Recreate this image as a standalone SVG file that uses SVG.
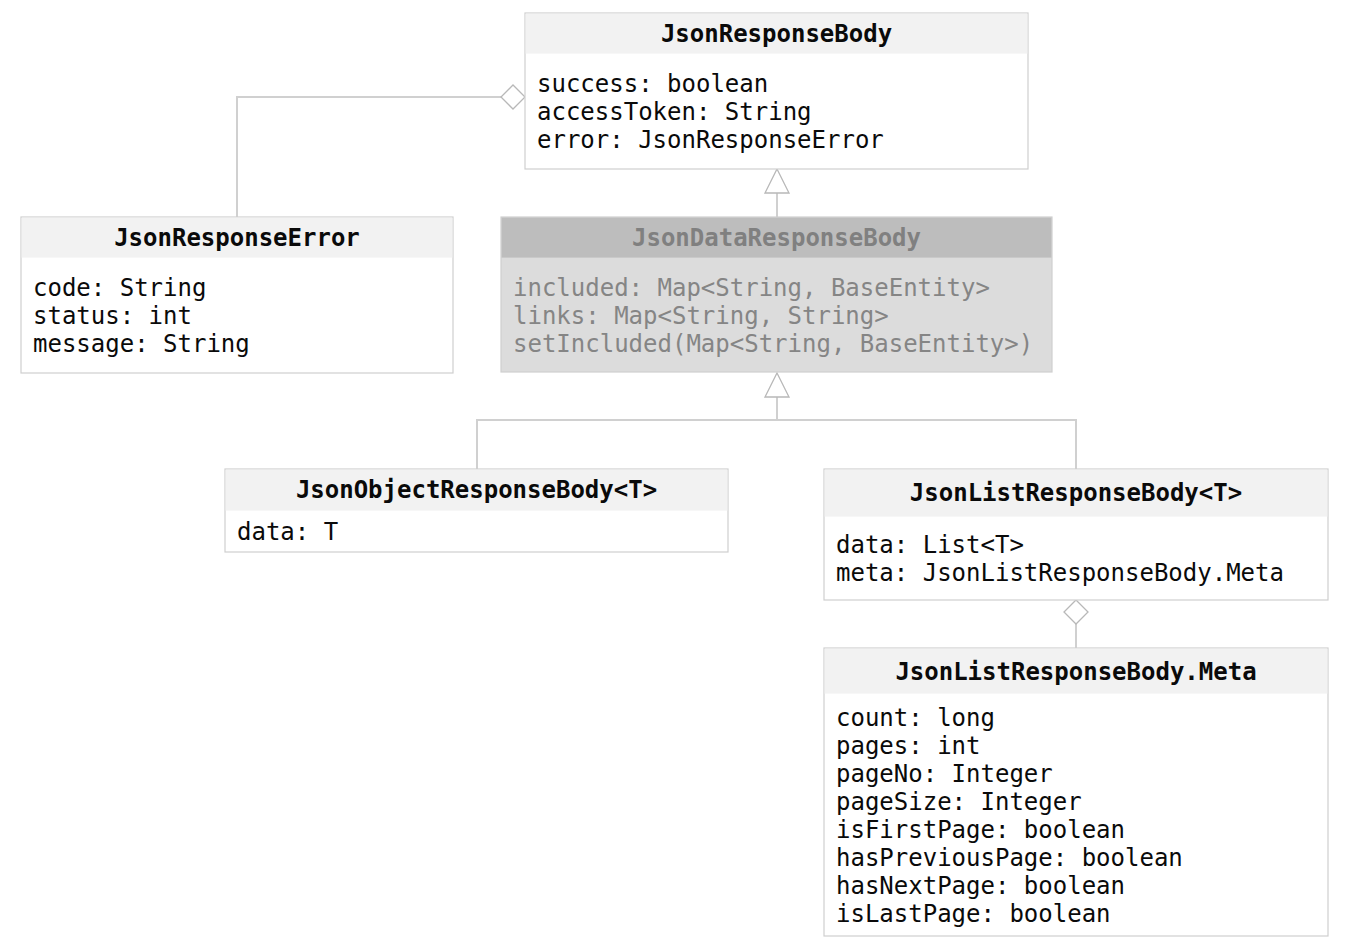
<svg xmlns="http://www.w3.org/2000/svg" width="1350" height="950" viewBox="0 0 1350 950">
<defs>
<style>
.box{fill:#ffffff;stroke:#cfcfcf;stroke-width:1.2}
.hdr{fill:#f2f2f2}
.title{font-family:"DejaVu Sans Mono","Liberation Mono",monospace;font-size:24px;font-weight:bold;fill:#0a0a0a;text-anchor:middle}
.attr{font-family:"DejaVu Sans Mono","Liberation Mono",monospace;font-size:24px;fill:#0a0a0a}
.gbox{fill:#dcdcdc;stroke:#cfcfcf;stroke-width:1.2}
.ghdr{fill:#bdbdbd}
.gtitle{font-family:"DejaVu Sans Mono","Liberation Mono",monospace;font-size:24px;font-weight:bold;fill:#808080;text-anchor:middle}
.gattr{font-family:"DejaVu Sans Mono","Liberation Mono",monospace;font-size:24px;fill:#858585}
.conn{fill:none;stroke:#d0d0d0;stroke-width:2}
.head{fill:#ffffff;stroke:#b8b8b8;stroke-width:1.3}
</style>
</defs>
<rect width="1350" height="950" fill="#ffffff"/>

<g id="connectors">
<polyline class="conn" points="501,97 237,97 237,217"/>
<polygon class="head" points="525,97 513,85 501,97 513,109"/>
<line class="conn" x1="777" y1="193" x2="777" y2="217"/>
<polygon class="head" points="777,169 789,193 765,193"/>
<line class="conn" x1="777" y1="397" x2="777" y2="420"/>
<polyline class="conn" points="477,469 477,420 1076,420 1076,469"/>
<polygon class="head" points="777,373 789,397 765,397"/>
<line class="conn" x1="1076" y1="624" x2="1076" y2="648"/>
<polygon class="head" points="1076,600 1088,612 1076,624 1064,612"/>
</g>

<g id="JsonResponseBody">
<rect class="box" x="525" y="13" width="503" height="156"/>
<rect class="hdr" x="525.6" y="13.6" width="501.8" height="40"/>
<text class="title" x="776.5" y="42">JsonResponseBody</text>
<text class="attr" x="537" y="92">success: boolean</text>
<text class="attr" x="537" y="120">accessToken: String</text>
<text class="attr" x="537" y="148">error: JsonResponseError</text>
</g>

<g id="JsonResponseError">
<rect class="box" x="21" y="217" width="432" height="156"/>
<rect class="hdr" x="21.6" y="217.6" width="430.8" height="40"/>
<text class="title" x="237" y="246">JsonResponseError</text>
<text class="attr" x="33" y="296">code: String</text>
<text class="attr" x="33" y="324">status: int</text>
<text class="attr" x="33" y="352">message: String</text>
</g>

<g id="JsonDataResponseBody">
<rect class="gbox" x="501" y="217" width="551" height="155"/>
<rect class="ghdr" x="501.6" y="217.6" width="549.8" height="40"/>
<text class="gtitle" x="776.5" y="246">JsonDataResponseBody</text>
<text class="gattr" x="513" y="296">included: Map&lt;String, BaseEntity&gt;</text>
<text class="gattr" x="513" y="324">links: Map&lt;String, String&gt;</text>
<text class="gattr" x="513" y="352">setIncluded(Map&lt;String, BaseEntity&gt;)</text>
</g>

<g id="JsonObjectResponseBody">
<rect class="box" x="225" y="469" width="503" height="83"/>
<rect class="hdr" x="225.6" y="469.6" width="501.8" height="41"/>
<text class="title" x="476.5" y="498">JsonObjectResponseBody&lt;T&gt;</text>
<text class="attr" x="237" y="540">data: T</text>
</g>

<g id="JsonListResponseBody">
<rect class="box" x="824" y="469" width="504" height="131"/>
<rect class="hdr" x="824.6" y="469.6" width="502.8" height="47"/>
<text class="title" x="1076" y="501">JsonListResponseBody&lt;T&gt;</text>
<text class="attr" x="836" y="553">data: List&lt;T&gt;</text>
<text class="attr" x="836" y="581">meta: JsonListResponseBody.Meta</text>
</g>

<g id="JsonListResponseBodyMeta">
<rect class="box" x="824" y="648" width="504" height="288"/>
<rect class="hdr" x="824.6" y="648.6" width="502.8" height="45"/>
<text class="title" x="1076" y="680">JsonListResponseBody.Meta</text>
<text class="attr" x="836" y="726">count: long</text>
<text class="attr" x="836" y="754">pages: int</text>
<text class="attr" x="836" y="782">pageNo: Integer</text>
<text class="attr" x="836" y="810">pageSize: Integer</text>
<text class="attr" x="836" y="838">isFirstPage: boolean</text>
<text class="attr" x="836" y="866">hasPreviousPage: boolean</text>
<text class="attr" x="836" y="894">hasNextPage: boolean</text>
<text class="attr" x="836" y="922">isLastPage: boolean</text>
</g>
</svg>
